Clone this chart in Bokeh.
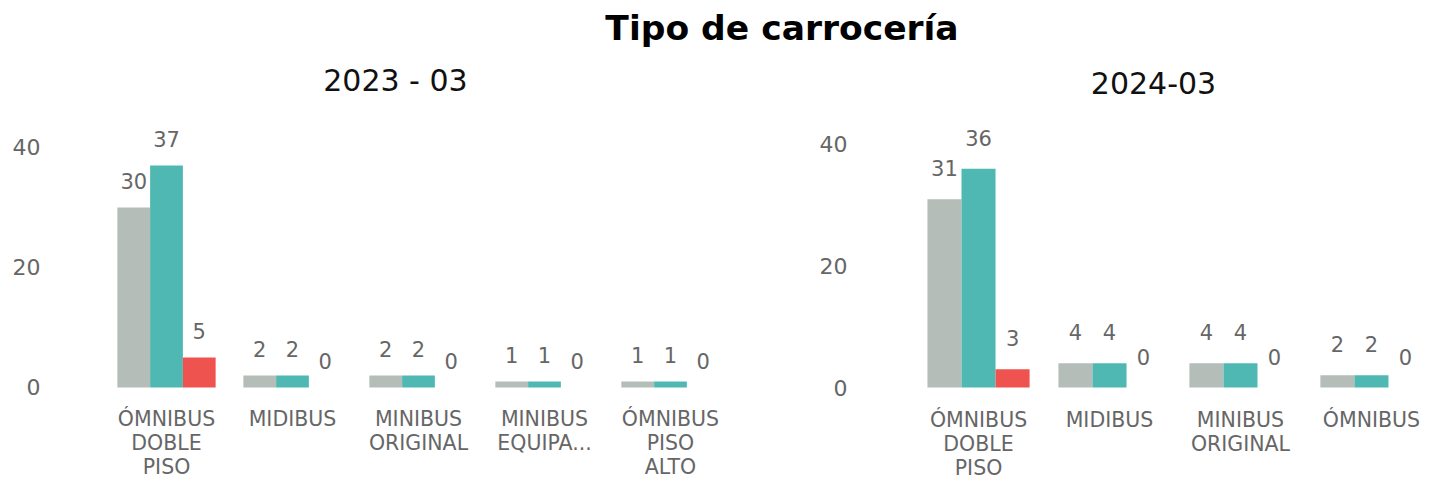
from bokeh.plotting import figure
from bokeh.models import ColumnDataSource, Range1d, FixedTicker, Label
from bokeh.layouts import column, row
from bokeh.transform import dodge
from bokeh.embed import file_html
from bokeh.resources import INLINE
from bokeh.core.properties import value

main_title = "Tipo de carrocería"

subtitle_a = "2023 - 03"
categories_a = ["ÓMNIBUS\nDOBLE\nPISO", "MIDIBUS", "MINIBUS\nORIGINAL", "MINIBUS\nEQUIPA...", "ÓMNIBUS\nPISO\nALTO"]
gray_a = [30, 2, 2, 1, 1]
teal_a = [37, 2, 2, 1, 1]
red_a = [5, 0, 0, 0, 0]

subtitle_b = "2024-03"
categories_b = ["ÓMNIBUS\nDOBLE\nPISO", "MIDIBUS", "MINIBUS\nORIGINAL", "ÓMNIBUS"]
gray_b = [31, 4, 4, 2]
teal_b = [36, 4, 4, 2]
red_b = [3, 0, 0, 0]

y_ticks = [0, 20, 40]

FONT = "DejaVu Sans"
TXT = "#666666"
COLORS = {"gray": "#b5bdb9", "teal": "#50b8b3", "red": "#ef5350"}
BAR_W = 0.26


def make_panel(cats, gray, teal, red, subtitle, width, height, xr, yr,
               min_left, min_right, y_standoff, lbl_off, sub_pos):
    idx = list(range(len(cats)))
    src = ColumnDataSource(dict(
        x=idx, cat=cats, gray=gray, teal=teal, red=red,
        gray_l=[str(v) for v in gray], teal_l=[str(v) for v in teal], red_l=[str(v) for v in red],
    ))
    p = figure(width=width, height=height, x_range=Range1d(*xr), y_range=Range1d(*yr),
               output_backend="svg", toolbar_location=None, x_axis_location=None,
               min_border_left=min_left, min_border_right=min_right,
               min_border_top=0, min_border_bottom=0)
    for off, key in [(-BAR_W, "gray"), (0, "teal"), (BAR_W, "red")]:
        xx = dodge("x", off, range=p.x_range)
        p.vbar(x=xx, top=key, width=BAR_W, source=src,
               fill_color=COLORS[key], line_color=None)
        p.text(x=xx, y=key, text=key + "_l", source=src,
               text_align="center", text_baseline="alphabetic", y_offset=lbl_off,
               text_font=value(FONT), text_font_size="21px", text_color=TXT)
    # category labels under the bars
    p.text(x="x", y=0, text="cat", source=src, text_align="center", text_baseline="top",
           y_offset=20, text_line_height=1.0,
           text_font=value(FONT), text_font_size="20.5px", text_color=TXT)
    # panel subtitle
    p.add_layout(Label(x=sub_pos[0], y=sub_pos[1], text=subtitle, text_align="center",
                       text_baseline="middle", text_font=FONT, text_font_size="30px",
                       text_color="#111111"))
    p.xgrid.grid_line_color = None
    p.ygrid.grid_line_color = None
    p.outline_line_color = None
    p.yaxis.ticker = FixedTicker(ticks=y_ticks)
    ax = p.yaxis[0]
    ax.axis_line_color = None
    ax.major_tick_line_color = None
    ax.minor_tick_line_color = None
    ax.major_label_text_font = FONT
    ax.major_label_text_font_size = "22px"
    ax.major_label_text_color = TXT
    ax.major_label_standoff = y_standoff
    return p


# figures start at y=54; zero line at y=387; frame fills the figure height
left = make_panel(categories_a, gray_a, teal_a, red_a, subtitle_a, 800, 427,
                  (-0.881, 4.516), (-15.667, 55.5), 55, 65, 9, -26, (1.817, 51.17))
right = make_panel(categories_b, gray_b, teal_b, red_b, subtitle_b, 635, 427,
                   (-0.756, 3.489), (-15.47, 54.81), 79, 0, 26, -31, (1.336, 50.2))

head = figure(width=1435, height=54, x_axis_type=None, y_axis_type=None,
              output_backend="svg", toolbar_location=None,
              min_border=0, min_border_left=128, min_border_top=5, outline_line_color=None)
head.title.text = main_title
head.title.align = "center"
head.title.text_font = FONT
head.title.text_font_style = "bold"
head.title.text_font_size = "34.5px"
head.title.text_color = "#000000"

layout = column(head, row(left, right))
open("out.html", "w").write(file_html(layout, INLINE))
